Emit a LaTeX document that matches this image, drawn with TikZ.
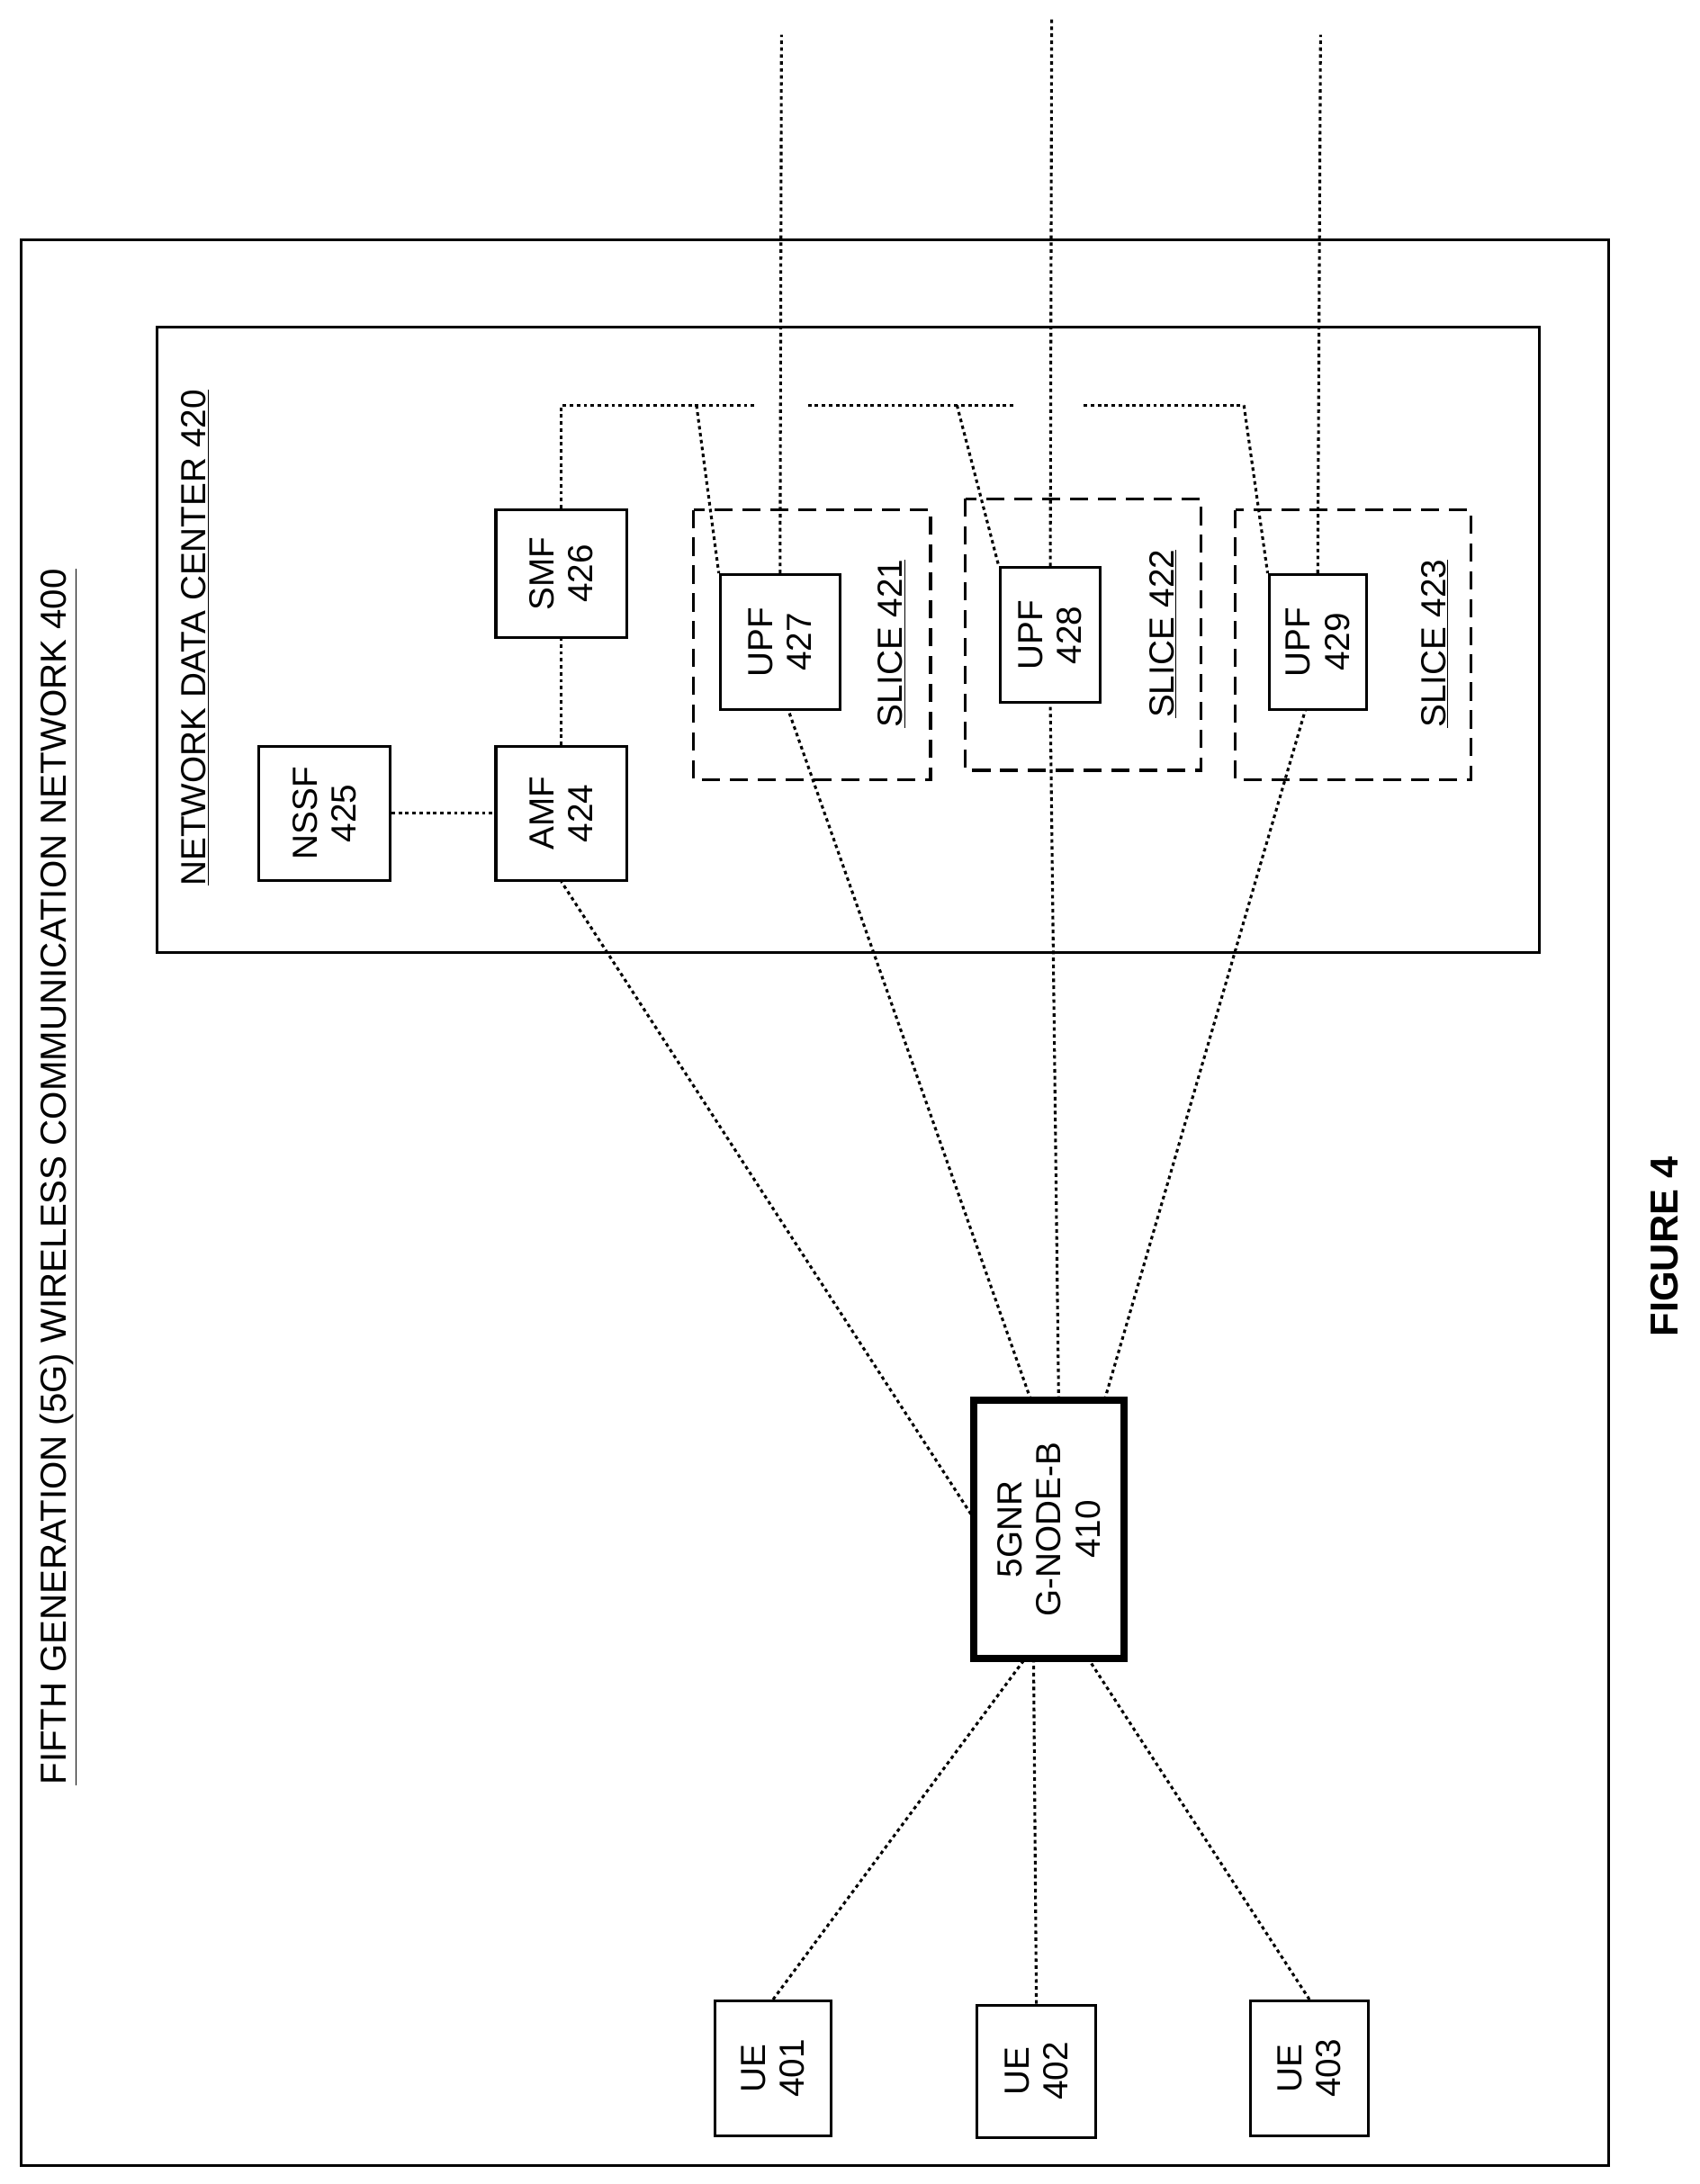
\documentclass[tikz,border=0pt]{standalone}
\usepackage{fontspec}
\setmainfont{Liberation Sans}
\begin{document}
\begin{tikzpicture}[x=1pt,y=-1pt,
    box/.style={draw, line width=2pt, rotate=90, align=center, font=\fontsize{25}{28}\selectfont},
    slice/.style={draw, line width=2pt, dash pattern=on 13pt off 7pt},
    lbl/.style={rotate=90, font=\fontsize{25}{28}\selectfont},
    link/.style={line width=2pt, dash pattern=on 2.5pt off 2.5pt}]
    \useasboundingbox (0,0) rectangle (1220,1568);

    % frames
    \draw[line width=2pt] (15,172) rectangle (1155,1555);
    \node[lbl, font=\fontsize{26}{29}\selectfont] (title) at (42,845) {\underline{FIFTH GENERATION (5G) WIRELESS COMMUNICATION NETWORK 400}};
    \draw[line width=2pt] (113,235) rectangle (1105,684);
    \node[lbl] (ndc) at (140,458) {\underline{NETWORK DATA CENTER 420}};

    % slices
    \draw[slice] (498,366) rectangle (668,560);
    \draw[slice] (693,358) rectangle (862,553);
    \draw[slice] (887,366) rectangle (1056,560);
    \node[lbl] (s421) at (640,462) {\underline{SLICE 421}};
    \node[lbl] (s422) at (835,455) {\underline{SLICE 422}};
    \node[lbl] (s423) at (1030,462) {\underline{SLICE 423}};

    % network functions
    \node[box, minimum width=96pt, minimum height=94pt] (nssf) at (233,584) {NSSF\\425};
    \node[box, minimum width=96pt, minimum height=94pt] (amf) at (403,584) {AMF\\424};
    \node[box, minimum width=92pt, minimum height=94pt] (smf) at (403,412) {SMF\\426};
    \node[box, minimum width=97pt, minimum height=86pt] (upf7) at (560,461) {UPF\\427};
    \node[box, minimum width=97pt, minimum height=72pt] (upf8) at (754,456) {UPF\\428};
    \node[box, minimum width=97pt, minimum height=70pt] (upf9) at (946,461) {UPF\\429};

    % access
    \node[box, line width=5pt, minimum width=185pt, minimum height=108pt] (gnb) at (753,1098) {5GNR\\G-NODE-B\\410};
    \node[box, minimum width=97pt, minimum height=83pt] (ue1) at (555,1485) {UE\\401};
    \node[box, minimum width=95pt, minimum height=85pt] (ue2) at (744,1487) {UE\\402};
    \node[box, minimum width=97pt, minimum height=85pt] (ue3) at (940,1485) {UE\\403};

    \node[rotate=90, font=\fontsize{28}{32}\selectfont\bfseries] (fig) at (1195,895) {FIGURE 4};

    % core links
    \coordinate (bus1) at (403,291);
    \coordinate (bus1e) at (543,291);
    \coordinate (bus2) at (580,291);
    \coordinate (bus2e) at (728,291);
    \coordinate (bus3) at (778,291);
    \coordinate (bus3e) at (893,291);
    \draw[link] (nssf) -- (amf);
    \draw[link] (amf) -- (smf);
    \draw[link] (smf.east) -- (bus1) -- (bus1e);
    \draw[link] (bus2) -- (bus2e);
    \draw[link] (bus3) -- (bus3e);
    \draw[link] (500,291) -- (upf7.north east);
    \draw[link] (687,291) -- (upf8.north east);
    \draw[link] (bus3e) -- (upf9.north east);
    \coordinate (out7) at (561,25);
    \coordinate (out8) at (755,12);
    \coordinate (out9) at (948,25);
    \draw[link] (upf7.east) -- (out7);
    \draw[link] (upf8.east) -- (out8);
    \draw[link] (upf9.east) -- (out9);

    % radio links
    \draw[link] (697,1087) -- (amf.west);
    \draw[link] (740,1005) -- (566,510);
    \draw[link] (760,1005) -- (upf8.west);
    \draw[link] (793,1005) -- (937,510);
    \draw[link] (ue1.east) -- (735,1192);
    \draw[link] (ue2.east) -- (742,1192);
    \draw[link] (ue3.east) -- (782,1192);
\end{tikzpicture}
\end{document}
